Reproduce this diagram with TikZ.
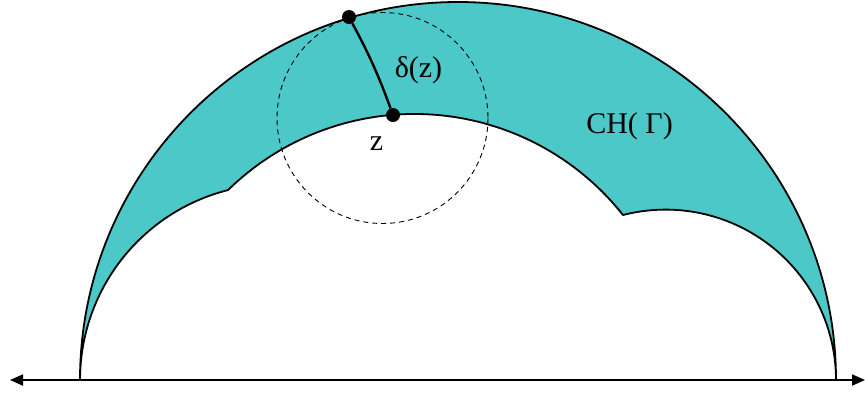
\documentclass[tikz,border=0pt]{standalone}
\usepackage{fontspec}
\setmainfont{Liberation Serif}
\usepackage{tikz}
\usetikzlibrary{arrows.meta, positioning}
\definecolor{hullTeal}{HTML}{4CC8C8}
\tikzset{
    hull_region/.style={
        fill=hullTeal, draw=black, line width=1.8pt, line join=round
    },
    axis_arrow/.style={
        {Triangle[length=13pt,width=11pt]}-{Triangle[length=13pt,width=11pt]}, line width=1.8pt
    },
    pt_dot/.style={
        circle, fill=black, inner sep=0pt, minimum size=14pt
    },
    geo_line/.style={
        line width=2.4pt
    },
    nbhd_circle/.style={
        dash pattern=on 5pt off 4pt, line width=0.9pt
    },
    lbl/.style={
        font=\fontsize{30}{36}\selectfont, inner sep=0pt, anchor=base
    }
}

\begin{document}
\begin{tikzpicture}[x=1pt, y=-1pt]
    \useasboundingbox (0,0) rectangle (865,392);

    % Convex hull: outer geodesic and the inner boundary with two kinks
    \draw[hull_region] (80,380) arc[start angle=180, end angle=360, radius=378]
        arc[start angle=0, end angle=-104.48, radius=170.4]
        arc[start angle=-38.33, end angle=-134.44, radius=266.05]
        arc[start angle=-104.18, end angle=-180, radius=196] -- cycle;

    % Boundary line at infinity
    \coordinate (axL) at (10,380);
    \coordinate (axR) at (865,380);
    \draw[axis_arrow] (axL) -- (axR);

    % Dashed neighbourhood circle
    \coordinate (nc) at (382.5,118);
    \draw[nbhd_circle] (nc) circle[radius=105.5];

    % Points and the distance segment
    \node[pt_dot] (w) at (349,17) {};
    \node[pt_dot] (z) at (393,115) {};
    \draw[geo_line] (w) to[bend left=4] (z);

    % Labels
    \node[lbl] (lz) at (376.5,150) {z};
    \node[lbl] (ldelta) at (418.5,77) {δ(z)};
    \node[lbl] (lch) at (629.5,133) {CH( Γ)};
\end{tikzpicture}
\end{document}
